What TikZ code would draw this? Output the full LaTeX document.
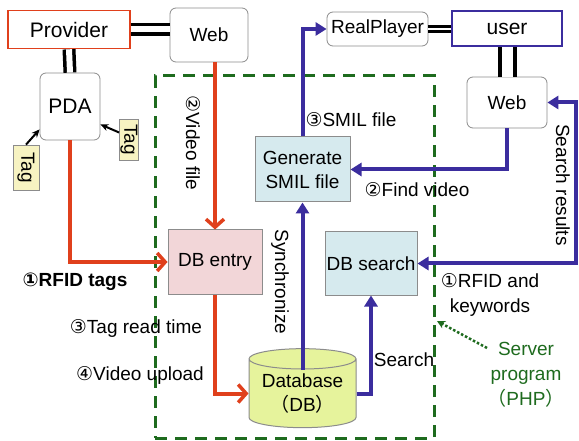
\documentclass[tikz,border=0pt]{standalone}
\usepackage{fontspec}
\setmainfont{Liberation Sans}
\newfontfamily\circfont{DejaVu Sans}
\newfontfamily\cjkfont{Noto Sans CJK SC}
\usetikzlibrary{arrows.meta,shapes.geometric}
\definecolor{rd}{HTML}{E0401C}
\definecolor{bl}{HTML}{3B2D9E}
\definecolor{gr}{HTML}{1E6B1E}
\definecolor{boxgray}{HTML}{8C8C8C}
\definecolor{pinkfill}{HTML}{F2D6D8}
\definecolor{bluefill}{HTML}{D6EAEE}
\definecolor{dbfill}{HTML}{E6F39C}
\definecolor{tagfill}{HTML}{F7F3C2}
\newcommand\cn[1]{{\circfont #1}}
\begin{document}
\begin{tikzpicture}[x=1pt,y=-1pt,
  every node/.style={font=\fontsize{19}{24}\selectfont, inner sep=0pt},
  wbox/.style={draw=boxgray, line width=0.8pt, rounded corners=6pt, fill=white},
  sqbox/.style={draw=boxgray, line width=1pt},
  tagbox/.style={draw=boxgray, line width=0.8pt, fill=tagfill},
  redarrow/.style={draw=rd, line width=4pt, -{Straight Barb[length=8pt,width=18pt,line width=3.5pt]}},
  blarrow/.style={draw=bl, line width=4pt, -{Triangle[length=11pt,width=13pt]}},
  dbl/.style={line width=3.5pt, double=white, double distance=6pt},
  tagarrow/.style={draw=black, line width=2pt, -{Stealth[length=8pt,width=7pt]}},
  dashbox/.style={draw=gr, line width=3pt, dash pattern=on 12pt off 8pt}
]
\useasboundingbox (0,0) rectangle (579,441);
\fill[white] (0,0) rectangle (579,441);

% server program frame
\node[dashbox, minimum width=279pt, minimum height=362pt] (srv) at (294.5,257) {};

% nodes
\node[draw=rd, line width=1.6pt, minimum width=122pt, minimum height=38pt, font=\fontsize{21}{24}\selectfont] (provider) at (69,29.5) {Provider};
\node[wbox, minimum width=78pt, minimum height=54pt] (webL) at (209,35) {Web};
\node[wbox, minimum width=60pt, minimum height=67pt, font=\fontsize{21}{24}\selectfont] (pda) at (70,106.5) {PDA};
\node[tagbox, minimum width=26pt, minimum height=45pt, font=\fontsize{19}{20}\selectfont] (tagL) at (26,167.5) {\rotatebox{-90}{Tag}};
\node[tagbox, minimum width=19pt, minimum height=41pt, font=\fontsize{19}{20}\selectfont] (tagR) at (129,139.5) {\rotatebox{-90}{Tag}};
\node[sqbox, fill=pinkfill, minimum width=94pt, minimum height=64pt] (dbentry) at (215,262) {DB entry};
\node[sqbox, fill=bluefill, minimum width=95pt, minimum height=65pt, align=center] (gen) at (302.5,169.5) {Generate\\SMIL file};
\node[sqbox, fill=bluefill, minimum width=92pt, minimum height=63pt] (dbsearch) at (371,263.5) {DB search};
\node[cylinder, shape border rotate=90, draw=boxgray, line width=1pt, fill=dbfill, aspect=0.25, minimum width=107pt, minimum height=79pt, align=center] (db) at (302.5,393.5) {Database\\{\cjkfont （}DB{\cjkfont ）}};
\node[wbox, minimum width=101pt, minimum height=34pt] (realplayer) at (377.5,29) {RealPlayer};
\node[draw=bl, line width=1.6pt, minimum width=110pt, minimum height=35pt, font=\fontsize{21}{24}\selectfont] (user) at (507,28.5) {user};
\node[wbox, minimum width=80pt, minimum height=51pt] (webR) at (507,102.5) {Web};

% double connections
\draw[dbl] (provider.east) -- (provider.east -| webL.west);
\draw[dbl] (provider.south) -- (pda.north);
\draw[line width=3pt, double=white, double distance=2.5pt] (realplayer.east) -- (realplayer.east -| user.west);
\draw[line width=4pt, double=white, double distance=11pt] (webR.north) -- (webR.north |- user.south);

% tag arrows
\draw[tagarrow] (tagL.north) -- ([yshift=11pt]pda.south west);
\draw[tagarrow] ([yshift=7pt]tagR.west) -- ([yshift=16pt]pda.south east);

% red arrows
\draw[redarrow] (pda.south) |- (dbentry.west);
\draw[redarrow] (webL.south -| dbentry.north) -- (dbentry.north);
\draw[redarrow] (dbentry.south) |- (db.west);

% blue arrows
\coordinate (sr1) at (576,102.5);
\coordinate (sr2) at (576,263.5);
\draw[blarrow] ([yshift=-22pt]db.top) -- (gen.south);
\draw[blarrow] (gen.north) |- (realplayer.west);
\draw[blarrow] (webR.south) |- (gen.east);
\draw[blarrow] (db.east) -| (dbsearch.south);
\draw[draw=bl, line width=4pt, {Triangle[length=11pt,width=13pt]}-{Triangle[length=11pt,width=13pt]}] (webR.east) -- (sr1) -- (sr2) -- (dbsearch.east);

% green dotted pointer
\node[text=gr, align=center, font=\fontsize{19}{25}\selectfont] (server) at (526,375) {Server\\program\\{\cjkfont （}PHP{\cjkfont ）}};
\coordinate (dotstart) at (487,348);
\coordinate (dotend) at (437,321);
\draw[gr, line width=2.5pt, dotted, -{Stealth[length=8pt,width=8pt]}] (dotstart) -- (dotend);

% labels
\node[rotate=-90] (lvideo) at (193,143) {\cn{②}Video file};
\node (lsmil) at (351,120) {\cn{③}SMIL file};
\node (lfind) at (417,190) {\cn{②}Find video};
\node[rotate=-90] (lsearchres) at (563,185) {Search results};
\node[rotate=-90] (lsync) at (280,282) {Synchronize};
\node[font=\bfseries\fontsize{19}{24}\selectfont] (lrfid) at (75,282) {\cn{①}RFID tags};
\node (ltag) at (136,328) {\cn{③}Tag read time};
\node (lupload) at (140,375) {\cn{④}Video upload};
\node (lsearch) at (404,360) {Search};
\node[align=center, font=\fontsize{19}{25}\selectfont] (lrfidkw) at (490,295) {\cn{①}RFID and\\keywords};
\end{tikzpicture}
\end{document}
